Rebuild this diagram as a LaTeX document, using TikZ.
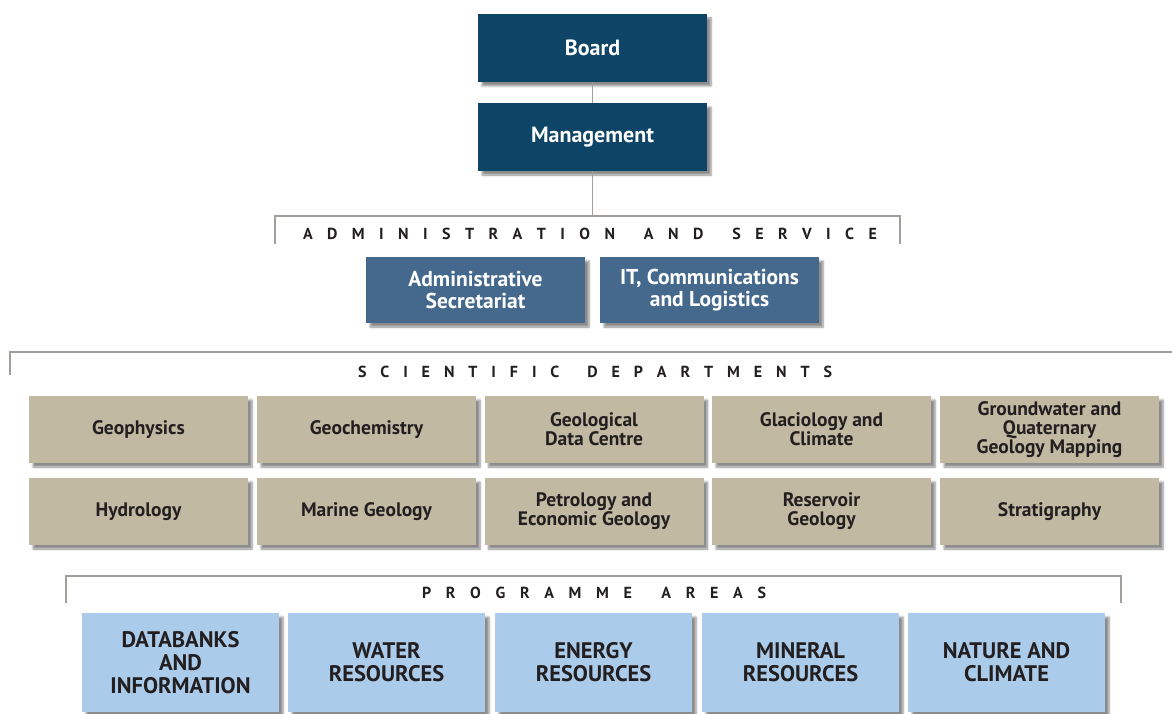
\documentclass[tikz,border=0pt]{standalone}
\usepackage{fontspec}
\setmainfont{PT Sans}
\usetikzlibrary{shadows.blur}
\definecolor{navy}{HTML}{0E4466}
\definecolor{steel}{HTML}{45698D}
\definecolor{tan}{HTML}{C2B9A2}
\definecolor{sky}{HTML}{ABCBEA}
\definecolor{ink}{HTML}{231F20}
\definecolor{rule}{HTML}{A39E9A}
\newcommand{\sq}{\hfill}
\newcommand{\wq}{\hfill\hfill}
\begin{document}
\begin{tikzpicture}[x=1pt,y=-1pt,
  box/.style={rectangle,inner sep=0pt,align=center,font=\bfseries,
    blur shadow={shadow xshift=4pt,shadow yshift=-4pt,shadow blur steps=6,shadow opacity=45}},
  topbox/.style={box,fill=navy,text=white,minimum width=229pt,minimum height=68pt,font=\fontsize{22}{25}\bfseries\selectfont},
  adminbox/.style={box,fill=steel,text=white,minimum width=219pt,minimum height=66pt,font=\fontsize{21.5}{22}\bfseries\selectfont},
  scibox/.style={box,fill=tan,text=ink,minimum width=219pt,minimum height=67pt,font=\fontsize{19.5}{19}\bfseries\selectfont},
  progbox/.style={box,fill=sky,text=ink,minimum width=197pt,minimum height=99pt,font=\fontsize{22.5}{23}\bfseries\selectfont},
  head/.style={inner sep=0pt,text=ink,font=\fontsize{16}{18}\bfseries\selectfont},
  link/.style={draw=rule,line width=1.6pt}]
\useasboundingbox (0,0) rectangle (1172,714);
\clip (0,0) rectangle (1172,714);
% top
\node[topbox] (board) at (592.5,48) {Board};
\node[topbox] (mgmt) at (592.5,137) {Management};
\draw[link] (board.south) -- (mgmt.north);
% administration bracket
\coordinate (a1) at (275,244);
\coordinate (a2) at (275,216);
\coordinate (a3) at (900,216);
\coordinate (a4) at (900,244);
\coordinate (am) at (592.5,216);
\draw[link] (a1) -- (a2) -- (a3) -- (a4);
\draw[link] (mgmt.south) -- (am);
\node[head] (adminhead) at (590,234) {\makebox[574pt][s]{A\sq D\sq M\sq I\sq N\sq I\sq S\sq T\sq R\sq A\sq T\sq I\sq O\sq N\wq A\sq N\sq D\wq S\sq E\sq R\sq V\sq I\sq C\sq E}};
\node[adminbox] (adsec) at (475.5,290) {Administrative\\Secretariat};
\node[adminbox] (itcl) at (709.5,290) {IT, Communications\\and Logistics};
% scientific bracket
\coordinate (s1) at (10,375);
\coordinate (s2) at (10,352);
\coordinate (s3) at (1180,352);
\draw[link] (s1) -- (s2) -- (s3);
\node[head] (scihead) at (595,372) {\makebox[474pt][s]{S\sq C\sq I\sq E\sq N\sq T\sq I\sq F\sq I\sq C\wq D\sq E\sq P\sq A\sq R\sq T\sq M\sq E\sq N\sq T\sq S}};
\node[scibox] (geoph) at (138.5,429.5) {Geophysics};
\node[scibox] (geoch) at (366.5,429.5) {Geochemistry};
\node[scibox] (gdc) at (594,429.5) {Geological\\Data Centre};
\node[scibox] (glac) at (821.5,429.5) {Glaciology and\\Climate};
\node[scibox] (gw) at (1049.5,429.5) {Groundwater and\\Quaternary\\Geology Mapping};
\node[scibox] (hyd) at (138.5,511.5) {Hydrology};
\node[scibox] (mar) at (366.5,511.5) {Marine Geology};
\node[scibox] (pet) at (594,511.5) {Petrology and\\Economic Geology};
\node[scibox] (res) at (821.5,511.5) {Reservoir\\Geology};
\node[scibox] (strat) at (1049.5,511.5) {Stratigraphy};
% programme bracket
\coordinate (p1) at (66,603);
\coordinate (p2) at (66,576);
\coordinate (p3) at (1121,576);
\coordinate (p4) at (1121,603);
\draw[link] (p1) -- (p2) -- (p3) -- (p4);
\node[head] (proghead) at (594,593) {\makebox[344pt][s]{P\sq R\sq O\sq G\sq R\sq A\sq M\sq M\sq E\wq A\sq R\sq E\sq A\sq S}};
\node[progbox] (data) at (180.5,662.5) {DATABANKS\\AND\\INFORMATION};
\node[progbox] (water) at (386.5,662.5) {WATER\\RESOURCES};
\node[progbox] (energy) at (593.5,662.5) {ENERGY\\RESOURCES};
\node[progbox] (mineral) at (800.5,662.5) {MINERAL\\RESOURCES};
\node[progbox] (nature) at (1006.5,662.5) {NATURE AND\\CLIMATE};
\end{tikzpicture}
\end{document}
